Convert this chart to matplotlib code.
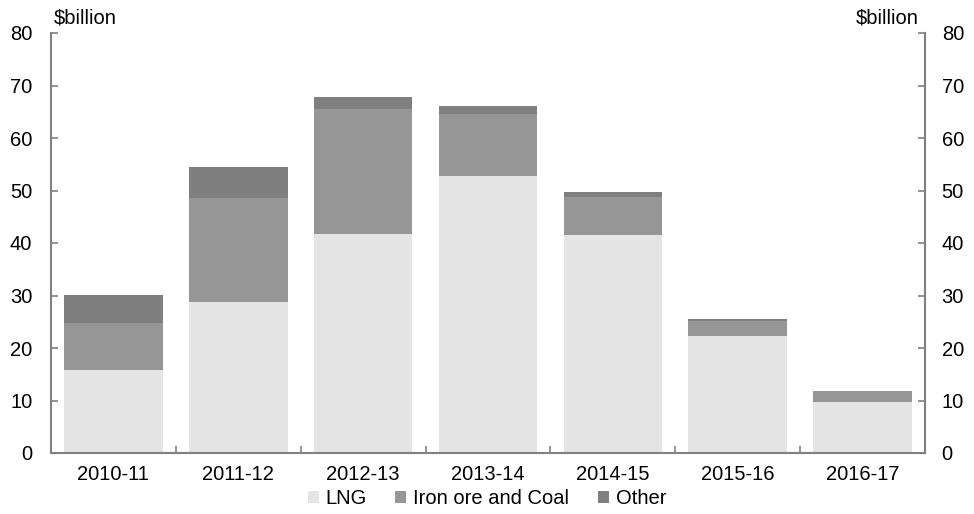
import matplotlib
matplotlib.use("Agg")
import matplotlib.pyplot as plt
import numpy as np

plt.rcParams['font.family'] = ['Liberation Sans', 'DejaVu Sans']

categories = ["2010-11", "2011-12", "2012-13", "2013-14", "2014-15", "2015-16", "2016-17"]
lng = [15.8, 28.8, 41.7, 52.8, 41.5, 22.2, 9.8]
iron_coal = [9.0, 19.8, 23.8, 11.8, 7.3, 2.9, 2.0]
other = [5.3, 5.9, 2.3, 1.5, 1.0, 0.4, 0.05]

c_lng = "#e4e4e4"
c_iron = "#969696"
c_other = "#7f7f7f"
axis_c = "#808080"
FS = 14.5

fig = plt.figure(figsize=(9.74, 5.14), dpi=100)
ax = fig.add_axes([51/974, 61/514, 874/974, 420/514])

x = np.arange(len(categories))
lng_a = np.array(lng)
iron_a = np.array(iron_coal)
oth_a = np.array(other)
w = 0.79
ax.bar(x, lng_a, w, color=c_lng, label="LNG")
ax.bar(x, iron_a, w, bottom=lng_a, color=c_iron, label="Iron ore and Coal")
ax.bar(x, oth_a, w, bottom=lng_a + iron_a, color=c_other, label="Other")

ax.set_xlim(-0.5, len(categories) - 0.5)
ax.set_ylim(0, 80)
yt = np.arange(0, 81, 10)
ax.set_yticks(yt)
ax.set_yticklabels([str(v) for v in yt], fontsize=FS)
ax.set_xticks(x)
ax.set_xticklabels(categories, fontsize=FS)
ax.tick_params(axis='x', length=0, pad=9)
ax.set_xticks(np.arange(0.5, len(categories) - 1, 1), minor=True)
ax.tick_params(axis='x', which='minor', direction='in', length=5, color=axis_c, width=1.2)
ax.tick_params(axis='y', direction='in', length=5, color=axis_c, width=1.2, pad=13.5)

ax.spines['top'].set_visible(False)
for s in ['left', 'right', 'bottom']:
    ax.spines[s].set_color(axis_c)
    ax.spines[s].set_linewidth(1.5)

ax2 = ax.twinx()
ax2.set_ylim(0, 80)
ax2.set_yticks(yt)
ax2.set_yticklabels([str(v) for v in yt], fontsize=FS)
ax2.tick_params(axis='y', direction='in', length=5, color=axis_c, width=1.2, pad=12)
for s in ['top', 'left', 'bottom']:
    ax2.spines[s].set_visible(False)
ax2.spines['right'].set_color(axis_c)
ax2.spines['right'].set_linewidth(1.5)

fig.text(54/974, 1 - 18/514, "$billion", fontsize=FS, ha='left', va='center')
fig.text(919/974, 1 - 18/514, "$billion", fontsize=FS, ha='right', va='center')

h, l = ax.get_legend_handles_labels()
fig.legend(h, l, loc='center', bbox_to_anchor=(0.5, 1 - 499/514), ncol=3, frameon=False,
           fontsize=FS, handlelength=0.55, handleheight=0.55, handletextpad=0.35,
           columnspacing=1.4, borderaxespad=0)

fig.savefig("out.png", dpi=100)
